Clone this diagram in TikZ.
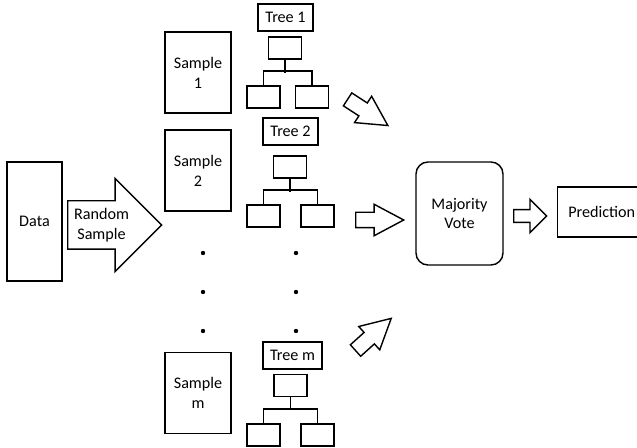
\documentclass[tikz,border=0pt]{standalone}
\usepackage{fontspec}
\setmainfont{Carlito}
\usetikzlibrary{shapes.arrows}

\begin{document}
\begin{tikzpicture}[x=0.25mm, y=-0.25mm, font=\fontsize{11.5}{14.2}\selectfont,
  box/.style={draw, rectangle, line width=1pt, inner sep=0pt, align=center},
  sample/.style={box, minimum width=16.5mm, minimum height=20.25mm},
  treelabel/.style={draw, line width=1pt, inner xsep=1.8mm, inner ysep=0pt, minimum height=6.75mm},
  leaf/.style={draw, line width=1.3pt, minimum width=8.25mm, minimum height=5.5mm, inner sep=0pt},
  branch/.style={line width=1.3pt},
  dot/.style={circle, fill, inner sep=0pt, minimum size=1.1mm},
  blockarrow/.style={draw, line width=1pt, single arrow, single arrow head indent=0pt, inner xsep=0pt, anchor=tail},
  bigarrow/.style={blockarrow, minimum height=23.5mm, inner ysep=5.875mm, single arrow head extend=5.6mm, single arrow tip angle=90},
  votearrow/.style={blockarrow, minimum height=12mm, inner ysep=1.75mm, single arrow head extend=2mm, single arrow tip angle=56},
  predarrow/.style={blockarrow, minimum height=8.25mm, inner ysep=1.4mm, single arrow head extend=2.6mm, single arrow tip angle=90}]
\clip (0,0) rectangle (637,448);

\node[box, minimum width=13.75mm, minimum height=29.75mm] (data) at (34.5,221.5) {Data};
\node[bigarrow] (rs) at (67,225) {};
\node[align=center] (rs_text) at (101.5,225.5) {Random\\Sample};

\node[sample] (S1) at (198,72.5) {Sample\\1};
\node[sample] (S2) at (198,170.5) {Sample\\2};
\node[sample] (Sm) at (198,393) {Sample\\m};

% tree 1
\node[treelabel] (T1) at (285.5,17.5) {Tree 1};
\node[leaf] (T1_root) at (285,48) {};
\node[leaf] (T1_left) at (263.5,97) {};
\node[leaf] (T1_right) at (312,97) {};
\draw[branch] (T1_root.south) -- ++(0,13);
\draw[branch] (T1_left.north) -- ++(0,-14) -| (T1_right.north);

% tree 2
\node[treelabel] (T2) at (290.5,131.5) {Tree 2};
\node[leaf] (T2_root) at (290,167) {};
\node[leaf] (T2_left) at (263.5,216) {};
\node[leaf] (T2_right) at (317.5,216) {};
\draw[branch] (T2_root.south) -- ++(0,13);
\draw[branch] (T2_left.north) -- ++(0,-14) -| (T2_right.north);

% tree m
\node[treelabel] (Tm) at (292.5,355.5) {Tree m};
\node[leaf] (Tm_root) at (290.5,385.5) {};
\node[leaf] (Tm_left) at (263.5,435) {};
\node[leaf] (Tm_right) at (317.5,435) {};
\draw[branch] (Tm_root.south) -- ++(0,13);
\draw[branch] (Tm_left.north) -- ++(0,-14) -| (Tm_right.north);

% dots
\node[dot] (dS1) at (203,253) {};
\node[dot] (dS2) at (203,292) {};
\node[dot] (dS3) at (203,331) {};
\node[dot] (dT1) at (296,253) {};
\node[dot] (dT2) at (296,292) {};
\node[dot] (dT3) at (296,331) {};

\node[votearrow, rotate=-33] (A1) at (347,99) {};
\node[votearrow] (A2) at (355,220) {};
\node[votearrow, rotate=42] (Am) at (355,351) {};

\node[box, rounded corners=3mm, minimum width=21.75mm, minimum height=25.75mm] (vote) at (459.5,213.5) {Majority\\Vote};
\node[predarrow] (A_pred) at (513,216) {};
\node[box, anchor=west, minimum width=22mm, minimum height=12.5mm] (pred) at (557,212) {Prediction};
\end{tikzpicture}
\end{document}
